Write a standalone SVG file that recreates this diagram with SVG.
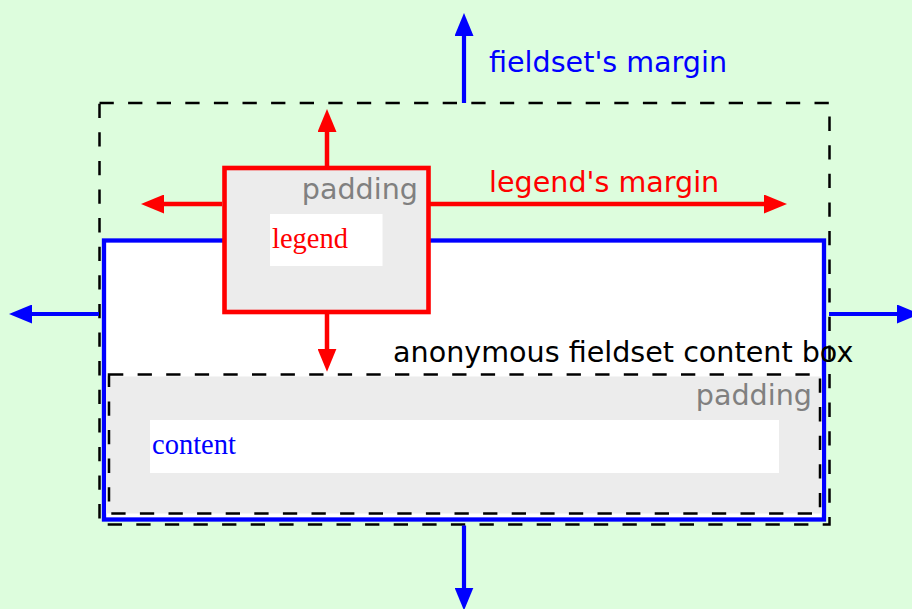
<svg xmlns="http://www.w3.org/2000/svg" width="912" height="609" viewBox="0 0 912 609">
  <style>
    .sans { font-family: "DejaVu Sans", "Liberation Sans", sans-serif; font-size: 28.6px; }
    .serif { font-family: "Liberation Serif", "DejaVu Serif", serif; font-size: 28.5px; }
    .dash { fill: none; stroke: #000; stroke-width: 2.5; stroke-dasharray: 14.3 14.3; }
    .pad { fill: #808080; }
    .blue { stroke: #0000ff; stroke-width: 4.2; fill: none; }
    .red { stroke: #ff0000; stroke-width: 4.5; fill: none; }
  </style>
  <defs>
    <marker id="ah-blue" markerUnits="userSpaceOnUse" viewBox="0 0 23 19" markerWidth="23" markerHeight="19" refX="15" refY="9.5" orient="auto">
      <path d="M0,0 L23,9.5 L0,19 z" fill="#0000ff"/>
    </marker>
    <marker id="ah-red" markerUnits="userSpaceOnUse" viewBox="0 0 23 19" markerWidth="23" markerHeight="19" refX="15" refY="9.5" orient="auto">
      <path d="M0,0 L23,9.5 L0,19 z" fill="#ff0000"/>
    </marker>
  </defs>
  <rect x="0" y="0" width="912" height="609" fill="#ddfddd"/>

  <g id="fieldset-margin-box">
    <rect class="dash" x="99.5" y="103" width="730" height="421.5"/>
  </g>

  <g id="fieldset-border-box">
    <rect x="104" y="240.5" width="720" height="279" fill="#ffffff" stroke="#0000ff" stroke-width="4.3"/>
  </g>

  <g id="anonymous-content-box">
    <rect x="106" y="376.5" width="716" height="137" fill="#ececec"/>
    <rect class="dash" x="109" y="374.5" width="711" height="139"/>
    <text class="sans" x="393" y="362" fill="#000000">anonymous fieldset content box</text>
    <text class="sans pad" x="812" y="405" text-anchor="end">padding</text>
  </g>

  <g id="content">
    <rect x="150" y="420" width="629" height="53" fill="#ffffff"/>
    <text class="serif" x="152" y="454" fill="#0000ff">content</text>
  </g>

  <g id="legend">
    <rect x="224.5" y="168" width="204" height="144" fill="#ececec" stroke="#ff0000" stroke-width="4.6"/>
    <text class="sans pad" x="418" y="199" text-anchor="end">padding</text>
    <rect x="270" y="214" width="112.5" height="52" fill="#ffffff"/>
    <text class="serif" x="272" y="248" fill="#ff0000">legend</text>
  </g>

  <g id="connectors">
    <line class="blue" x1="464" y1="103" x2="464" y2="21" marker-end="url(#ah-blue)"/>
    <line class="blue" x1="464" y1="525.5" x2="464" y2="602.5" marker-end="url(#ah-blue)"/>
    <line class="blue" x1="99" y1="314" x2="17" y2="314" marker-end="url(#ah-blue)"/>
    <line class="blue" x1="829" y1="314" x2="912" y2="314" marker-end="url(#ah-blue)"/>
    <line class="red" x1="327" y1="166" x2="327" y2="117" marker-end="url(#ah-red)"/>
    <line class="red" x1="327" y1="314" x2="327" y2="363.7" marker-end="url(#ah-red)"/>
    <line class="red" x1="222" y1="204" x2="149" y2="204" marker-end="url(#ah-red)"/>
    <line class="red" x1="430" y1="204" x2="779" y2="204" marker-end="url(#ah-red)"/>
  </g>

  <g id="labels">
    <text class="sans" x="489" y="72" fill="#0000ff">fieldset's margin</text>
    <text class="sans" x="489" y="192" fill="#ff0000">legend's margin</text>
  </g>
</svg>
